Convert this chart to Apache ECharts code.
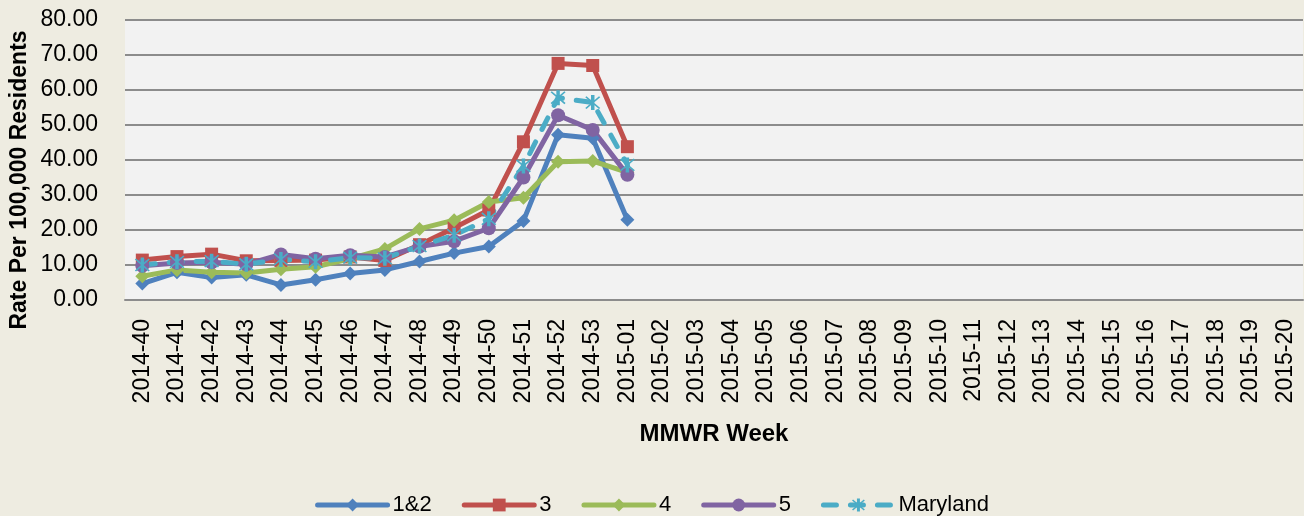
<!DOCTYPE html>
<html>
<head>
<meta charset="utf-8">
<script src="https://cdn.jsdelivr.net/npm/echarts@6/dist/echarts.min.js"></script>
<style>
html,body{margin:0;padding:0;background:#EEECE1;}
#chart{width:1304px;height:516px;}
</style>
</head>
<body>
<div id="chart"></div>
<script>
const weeks = ['2014-40','2014-41','2014-42','2014-43','2014-44','2014-45','2014-46','2014-47','2014-48','2014-49','2014-50','2014-51','2014-52','2014-53',
  '2015-01','2015-02','2015-03','2015-04','2015-05','2015-06','2015-07','2015-08','2015-09','2015-10','2015-11','2015-12','2015-13','2015-14','2015-15','2015-16','2015-17','2015-18','2015-19','2015-20'];
const region12 = [4.7, 7.9, 6.4, 7.2, 4.3, 5.8, 7.6, 8.6, 11.0, 13.4, 15.3, 22.6, 47.2, 46.2, 22.9];
const region3 = [11.4, 12.4, 13.1, 11.2, 11.3, 11.4, 12.3, 11.3, 15.8, 20.6, 25.7, 45.2, 67.6, 67.0, 43.8];
const region4 = [6.8, 8.6, 7.9, 7.7, 8.8, 9.5, 11.8, 14.6, 20.3, 22.8, 28.0, 29.2, 39.5, 39.7, 36.5];
const region5 = [9.8, 10.6, 10.8, 10.2, 13.0, 11.8, 12.8, 12.3, 15.3, 16.8, 20.5, 35.0, 52.8, 48.6, 35.8];
const maryland = [10.0, 10.9, 11.1, 10.2, 11.6, 10.9, 12.1, 11.9, 15.4, 18.5, 23.2, 38.3, 57.8, 56.4, 38.6];
const yTicks = [0, 10, 20, 30, 40, 50, 60, 70, 80];

const FONT = '"Liberation Sans", Arial, sans-serif';
const asterisk = 'path://M4,0L6,0L6,10L4,10Z M0.7,1.4L1.4,0.7L9.3,8.6L8.6,9.3Z M8.6,0.7L9.3,1.4L1.4,9.3L0.7,8.6Z';

function mk(name, data, color, symbol, size, dashed) {
  return {
    name: name, type: 'line', data: data, symbol: symbol, symbolSize: size,
    showAllSymbol: true, connectNulls: false,
    lineStyle: {color: color, width: 5, type: dashed ? [13, 14] : 'solid', cap: 'round', join: 'round'},
    itemStyle: {color: color},
    emphasis: {disabled: true}, animation: false
  };
}

const chart = echarts.init(document.getElementById('chart'), null, {renderer: 'canvas'});
chart.setOption({
  backgroundColor: '#EEECE1',
  animation: false,
  textStyle: {fontFamily: FONT},
  grid: {left: 125, right: 1, top: 20, bottom: 216, show: true, backgroundColor: '#F2F2F2', borderWidth: 0},
  legend: {
    bottom: -5, left: 'center', itemWidth: 70, itemHeight: 16, itemGap: 30,
    lineStyle: {width: 5},
    textStyle: {fontFamily: FONT, fontSize: 22, color: '#000'},
    data: ['1&2', '3', '4', '5', 'Maryland']
  },
  graphic: [{
    type: 'text', x: 20, y: 180, rotation: Math.PI / 2,
    style: {text: 'Rate Per 100,000 Residents', font: 'bold 23px ' + FONT, fill: '#000',
      align: 'center', verticalAlign: 'middle'}
  }],
  xAxis: {
    type: 'category', data: weeks, boundaryGap: true,
    axisLine: {lineStyle: {color: '#8C8C8C', width: 2}},
    axisTick: {inside: true, length: 8, lineStyle: {color: '#8C8C8C', width: 2}, alignWithLabel: false},
    axisLabel: {rotate: 90, interval: 0, fontSize: 23, color: '#000', fontFamily: FONT, margin: 19},
    name: 'MMWR Week', nameLocation: 'middle', nameGap: 122,
    nameTextStyle: {fontSize: 24, fontWeight: 'bold', color: '#000', fontFamily: FONT},
    splitLine: {show: false}
  },
  yAxis: {
    type: 'value', min: 0, max: 80, interval: 10,
    axisLine: {show: false}, axisTick: {show: false},
    axisLabel: {fontSize: 23, color: '#000', fontFamily: FONT, margin: 27,
      formatter: v => yTicks.includes(v) ? v.toFixed(2) : ''},
    splitLine: {lineStyle: {color: '#8C8C8C', width: 2}}
  },
  series: [
    mk('1&2', region12, '#4F81BD', 'diamond', 14, false),
    mk('3', region3, '#C0504D', 'rect', 13, false),
    mk('4', region4, '#9BBB59', 'diamond', 14, false),
    mk('5', region5, '#8064A2', 'circle', 14, false),
    mk('Maryland', maryland, '#4BACC6', asterisk, 15, true)
  ]
});
</script>
</body>
</html>
